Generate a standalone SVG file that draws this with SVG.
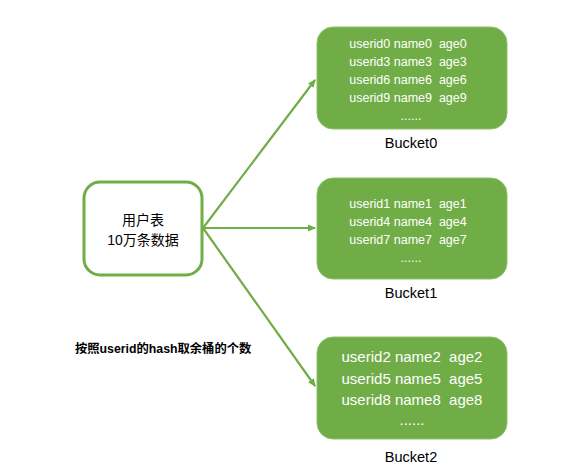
<svg xmlns="http://www.w3.org/2000/svg" width="579" height="471" viewBox="0 0 579 471">
<style>
.bucket{fill:#70AD47;stroke:#8CC168;stroke-width:1}
.bt{font-family:"Liberation Sans",Arial,sans-serif;fill:#ffffff;text-anchor:middle;white-space:pre}
.lbl{font-family:"Liberation Sans",Arial,sans-serif;fill:#000000;font-size:14.5px;text-anchor:middle}
.conn{stroke:#70AD47;stroke-width:2.2;fill:none;marker-end:url(#ah)}
</style>
<defs>
<marker id="ah" markerWidth="8" markerHeight="8" refX="7" refY="4" orient="auto" markerUnits="userSpaceOnUse">
<path d="M0,0.5 L8,4 L0,7.5 Z" fill="#70AD47"/>
</marker>
</defs>
<rect width="579" height="471" fill="#ffffff"/>
<g id="connectors">
<line class="conn" x1="203" y1="228" x2="315" y2="80"/>
<line class="conn" x1="203" y1="228" x2="315" y2="228"/>
<line class="conn" x1="203" y1="228" x2="315" y2="386"/>
</g>
<g id="source">
<rect x="84" y="182" width="118" height="93" rx="16" fill="#ffffff" stroke="#70AD47" stroke-width="3"/>
<text x="143" y="225" font-family="'Liberation Sans','Noto Sans CJK SC',sans-serif" font-size="14" text-anchor="middle" fill="#000">用户表</text>
<text x="143" y="245" font-family="'Liberation Sans','Noto Sans CJK SC',sans-serif" font-size="14" text-anchor="middle" fill="#000">10万条数据</text>
</g>
<g id="bucket0">
<rect class="bucket" x="317" y="27" width="190" height="102" rx="16"/>
<text class="bt" font-size="12.5" x="408" y="48" xml:space="preserve">userid0 name0  age0</text>
<text class="bt" font-size="12.5" x="408" y="66" xml:space="preserve">userid3 name3  age3</text>
<text class="bt" font-size="12.5" x="408" y="84" xml:space="preserve">userid6 name6  age6</text>
<text class="bt" font-size="12.5" x="408" y="102" xml:space="preserve">userid9 name9  age9</text>
<text class="bt" font-size="12.5" x="411" y="120">......</text>
<text class="lbl" x="411" y="148">Bucket0</text>
</g>
<g id="bucket1">
<rect class="bucket" x="317" y="178" width="190" height="101" rx="16"/>
<text class="bt" font-size="12.5" x="408" y="208" xml:space="preserve">userid1 name1  age1</text>
<text class="bt" font-size="12.5" x="408" y="226" xml:space="preserve">userid4 name4  age4</text>
<text class="bt" font-size="12.5" x="408" y="244" xml:space="preserve">userid7 name7  age7</text>
<text class="bt" font-size="12.5" x="411" y="262">......</text>
<text class="lbl" x="411" y="298">Bucket1</text>
</g>
<g id="bucket2">
<rect class="bucket" x="317" y="337" width="190" height="102" rx="16"/>
<text class="bt" font-size="15" x="412" y="362" xml:space="preserve">userid2 name2  age2</text>
<text class="bt" font-size="15" x="412" y="384" xml:space="preserve">userid5 name5  age5</text>
<text class="bt" font-size="15" x="412" y="405" xml:space="preserve">userid8 name8  age8</text>
<text class="bt" font-size="15" x="412" y="425">......</text>
<text class="lbl" x="411" y="462">Bucket2</text>
</g>
<g id="note">
<text x="75" y="353" font-family="'Liberation Sans','Noto Sans CJK SC',sans-serif" font-size="12.3" font-weight="bold" fill="#000">按照userid的hash取余桶的个数</text>
</g>
</svg>
